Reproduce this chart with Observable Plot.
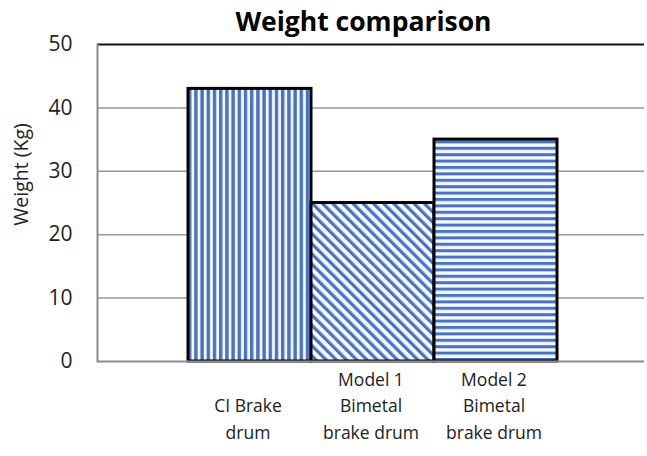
<!DOCTYPE html>
<html>
<head>
<meta charset="utf-8">
<script src="https://cdn.jsdelivr.net/npm/d3@7"></script>
<script src="https://cdn.jsdelivr.net/npm/@observablehq/plot@0.6"></script>
<style>
  html, body { margin: 0; padding: 0; background: #fff; }
  #title { height: 38px; line-height: 42px; text-align: center; font-family: "Open Sans", sans-serif; font-weight: bold; font-size: 26.5px; color: #000; padding-left: 80px; box-sizing: border-box; width: 647px; }
  #chart svg { display: block; }
</style>
</head>
<body>
<div id="title">Weight comparison</div>
<div id="chart"></div>
<script>
const categories = ["CI Brake\ndrum", "Model 1\nBimetal\nbrake drum", "Model 2\nBimetal\nbrake drum"];
const weights = [43, 25, 35];
const yTicks = [0, 10, 20, 30, 40, 50];

const data = categories.map((c, i) => ({category: c, weight: weights[i]}));
const patternIds = ["pat-vert", "pat-diag", "pat-horz"];
const fillFor = d => `url(#${patternIds[categories.indexOf(d.category)]})`;

const font = "'Open Sans', sans-serif";
const chart = Plot.plot({
  width: 647,
  height: 418,
  marginTop: 6,
  marginBottom: 95,
  marginLeft: 97,
  marginRight: 3,
  style: {fontFamily: font, background: "#fff", overflow: "visible"},
  x: {domain: categories, paddingInner: 0, paddingOuter: 0.72, axis: null},
  y: {domain: [0, 50], axis: null},
  fill: {type: "identity"},
  marks: [
    Plot.ruleY(yTicks.filter(t => t > 0 && t < 50), {stroke: "#9a9a9a", strokeWidth: 1.5}),
    Plot.ruleY([50], {stroke: "#111", strokeWidth: 2}),
    Plot.frame({anchor: "left", stroke: "#8c8c8c", strokeWidth: 2}),
    Plot.barY(data, {x: "category", y: "weight", fill: fillFor, stroke: "#000", strokeWidth: 3, dx: 2}),
    Plot.ruleY([0], {stroke: "#8c8c8c", strokeWidth: 2}),
    Plot.text(yTicks, {y: d => d, frameAnchor: "left", dx: -25, text: d => String(d), textAnchor: "end", fontSize: 21, fill: "#222"}),
    Plot.text(data, {x: "category", text: "category", frameAnchor: "bottom", dy: 77, lineAnchor: "bottom", lineHeight: 1.5, fontSize: 17.5, fill: "#222"}),
    Plot.text(["Weight (Kg)"], {frameAnchor: "top-left", dx: -76, dy: 130, rotate: -90, textAnchor: "middle", lineAnchor: "middle", text: d => d, fontSize: 19.5, fill: "#222"})
  ]
});

const ns = "http://www.w3.org/2000/svg";
const defs = document.createElementNS(ns, "defs");
const blue = "#4a72c4";
defs.innerHTML = `
  <pattern id="pat-vert" patternUnits="userSpaceOnUse" width="6.2" height="10">
    <rect width="6.2" height="10" fill="#f4f8ff"/>
    <rect x="0" width="3.4" height="10" fill="${blue}"/>
  </pattern>
  <pattern id="pat-diag" patternUnits="userSpaceOnUse" width="7.2" height="10" patternTransform="rotate(-45)">
    <rect width="7.2" height="10" fill="#f4f8ff"/>
    <rect x="0" width="3.2" height="10" fill="${blue}"/>
  </pattern>
  <pattern id="pat-horz" patternUnits="userSpaceOnUse" width="10" height="6.4">
    <rect width="10" height="6.4" fill="#f4f8ff"/>
    <rect y="0" width="10" height="3" fill="${blue}"/>
  </pattern>`;
chart.insertBefore(defs, chart.firstChild);
document.getElementById("chart").appendChild(chart);
</script>
</body>
</html>
